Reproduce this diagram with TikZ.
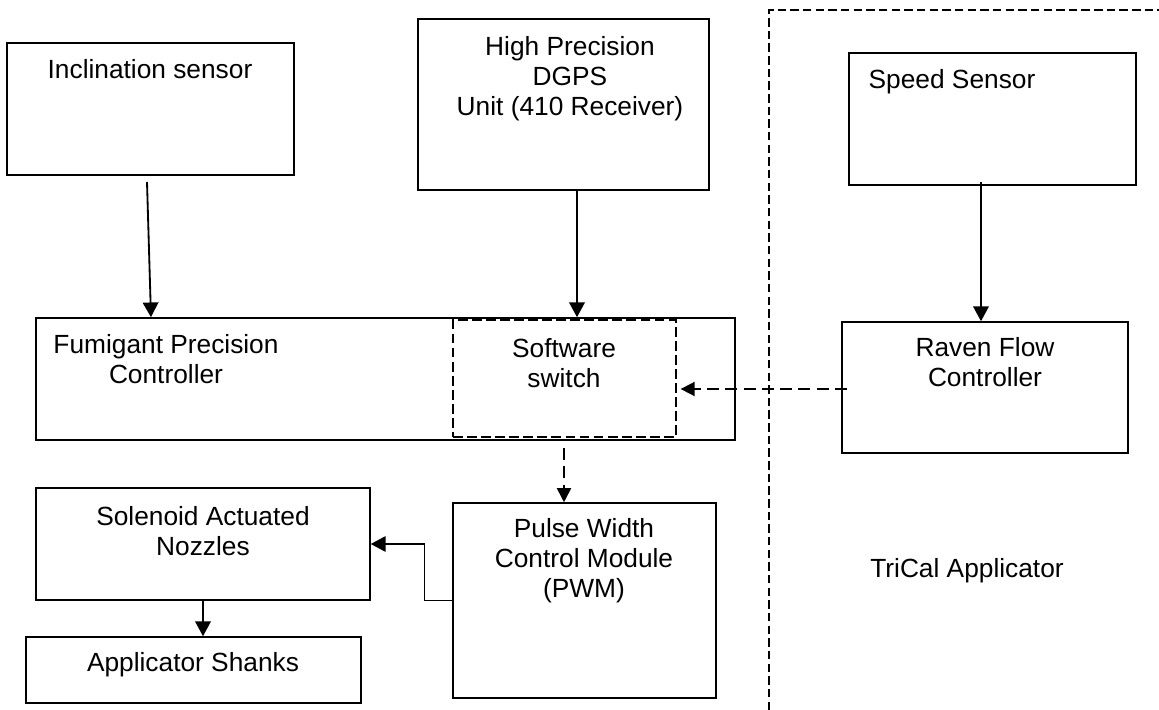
\documentclass[tikz,border=0pt]{standalone}
\usepackage{fontspec}
\setmainfont{Liberation Sans}
\usetikzlibrary{arrows.meta,fit,calc}
\tikzset{
    blk/.style={draw,line width=1.1pt,inner sep=0pt},                 % plain block
    swbox/.style={draw,line width=0.9pt,dash pattern=on 7pt off 3pt,inner sep=0pt},
    lbl/.style={anchor=north,align=center,inner sep=0pt,font=\fontsize{18.7}{21.3}\selectfont},
    arr/.style={line width=1.3pt,-{Triangle[length=10.5pt,width=11pt]}},
    thinarr/.style={line width=0.9pt,-{Triangle[length=10.5pt,width=11pt]}},
    darr/.style={line width=1.2pt,dash pattern=on 8.5pt off 4.5pt,-{Triangle[length=10pt,width=10pt]}},
}

\begin{document}
\begin{tikzpicture}[x=0.025cm,y=-0.025cm]
                \useasboundingbox (0,0) rectangle (1159,710);
                % blocks
                \node[blk,fit={(7,43)(294,175)}] (incl) {};
                \node[blk,fit={(418,19)(709,190)}] (dgps) {};
                \node[blk,fit={(849,53)(1136,185)}] (speed) {};
                \node[blk,fit={(36,318)(735,440)}] (fpc) {};
                \node[swbox,fit={(453,320)(676,437)}] (sw) {};
                \node[blk,fit={(842,322)(1128,453)}] (raven) {};
                \node[blk,fit={(36,488)(370,600)}] (sol) {};
                \node[blk,fit={(453,503)(716,698)}] (pwm) {};
                \node[blk,fit={(26,637)(361,703)}] (shk) {};
                % TriCal side
                \draw[line width=0.9pt,dash pattern=on 6pt off 3pt] (769,710) -- (769,10) -- (1159,10);
                % labels
                \node[lbl] (inclT) at (150,59) {Inclination sensor};
                \node[lbl] (dgpsT) at (570,36) {High Precision\\DGPS\\Unit (410 Receiver)};
                \node[lbl] (speedT) at (952,69) {Speed Sensor};
                \node[lbl] (fpcT) at (166,334) {Fumigant Precision\\Controller};
                \node[lbl] (swT) at (564,338) {Software\\switch};
                \node[lbl] (ravenT) at (985,337) {Raven Flow\\Controller};
                \node[lbl] (solT) at (203,506) {Solenoid Actuated\\Nozzles};
                \node[lbl] (shkT) at (193,652) {Applicator Shanks};
                \node[lbl] (pwmT) at (584,518) {Pulse Width\\Control Module\\(PWM)};
                \node[lbl] (triT) at (967,558) {TriCal Applicator};
                % connectors
                \coordinate (inclOut) at (147,182);
                \coordinate (gpsOut) at (577,190);
                \coordinate (spdOut) at (981,182);
                \coordinate (ravOut) at (847,389);
                \coordinate (swOut) at (564,448);
                \draw[arr] (inclOut) -- ($(fpc.north -| inclOut)+(4,0)$);
                \draw[arr] (gpsOut) -- (gpsOut |- fpc.north);
                \draw[arr] (spdOut) -- (spdOut |- raven.north);
                \draw[darr,shorten >=0.1cm] (ravOut) -- (ravOut -| sw.east);
                \draw[darr] (swOut) -- (swOut |- pwm.north);
                \draw[thinarr] (pwm.west) -- ++(-28,0) |- (sol.east);
                \draw[arr] (sol.south) -- (sol.south |- shk.north);
\end{tikzpicture}
\end{document}
